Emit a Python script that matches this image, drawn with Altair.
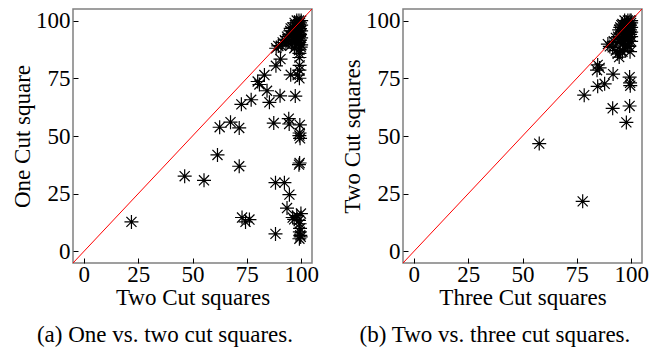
import altair as alt
import pandas as pd

# ---------------- data ----------------
ticks = [0, 25, 50, 75, 100]
diag = [-5, 105]

# Panel (a): x = Two Cut squares, y = One Cut square
a_two = [21.9, 46.4, 55.3, 61.5, 62.5, 67.5, 71.5, 71.5, 72.5, 72.8, 74.4, 76.2, 77.0, 80.0, 80.8,
         83.1, 84.3, 85.4, 87.4, 88.2, 88.2, 88.4, 90.3, 90.5, 92.3, 93.5, 94.3, 94.5, 94.6, 95.2,
         96.1, 96.8, 97.3, 98.4, 99.2, 99.2, 99.3, 99.2, 99.2, 99.2, 99.4, 99.3, 99.2, 99.5, 99.3,
         99.0, 99.9, 99.3, 99.5, 99.4, 99.6, 99.2, 99.8, 98.0, 99.0,
         88.5, 89.5, 90.7, 91.5, 92.5, 93.5, 94.0, 94.5, 95.0, 95.5, 96.0, 96.0, 96.5, 96.9, 97.0,
         97.0, 97.5, 97.5, 98.0, 98.0, 98.0, 98.0, 98.5, 98.5, 99.0, 99.0, 99.0, 99.0, 99.0, 99.5,
         99.5, 99.5, 99.5, 100.0, 100.0, 100.0, 100.0, 100.0, 99.8, 95.5, 93.0, 95.2]
a_one = [12.8, 32.6, 30.8, 41.8, 53.8, 56.0, 53.5, 36.9, 63.7, 14.7, 12.8, 13.8, 65.7, 73.6, 72.3,
         76.4, 69.6, 64.6, 55.6, 7.6, 29.8, 80.4, 67.4, 83.3, 29.8, 18.8, 57.5, 55.2, 24.6, 76.5,
         14.7, 13.9, 67.3, 76.4, 75.0, 78.5, 80.6, 84.0, 85.8, 87.3, 54.8, 51.3, 50.2, 49.0, 38.3,
         37.6, 16.4, 12.0, 10.0, 8.5, 7.0, 5.5, 6.3, 15.5, 13.5,
         88.0, 89.0, 89.1, 90.5, 91.5, 93.0, 91.5, 94.0, 95.5, 93.0, 97.0, 91.0, 95.0, 88.0, 99.0,
         93.0, 97.5, 91.0, 100.0, 96.0, 93.5, 89.5, 98.5, 95.0, 100.0, 97.5, 95.5, 93.0, 90.5, 99.0,
         96.5, 94.0, 91.5, 100.0, 98.0, 95.5, 92.5, 89.5, 88.5, 89.5, 90.0, 96.6]

# Panel (b): x = Three Cut squares, y = Two Cut squares
b_three = [57.7, 77.7, 78.4, 84.6, 87.8, 84.3, 84.6, 85.5, 91.7, 91.5, 97.8, 99.3, 99.3, 99.5, 99.6,
           90.2, 91.5, 93.8, 94.5, 98.4, 99.1, 89.3,
           92.0, 93.0, 94.0, 94.5, 95.0, 95.5, 96.0, 96.0, 96.5, 96.5, 97.0, 97.0, 97.5, 97.5, 98.0,
           98.0, 98.0, 98.0, 98.5, 98.5, 98.5, 99.0, 99.0, 99.0, 99.0, 99.0, 99.5, 99.5, 99.5, 99.5,
           100.0, 100.0, 100.0, 100.0, 100.0, 100.0, 97.0, 95.0, 96.0, 93.0, 99.5, 95.0, 96.0, 97.0,
           94.5, 95.5]
b_two = [46.7, 21.7, 67.7, 71.5, 72.6, 78.5, 80.8, 79.5, 76.8, 62.0, 55.9, 63.0, 75.5, 73.0, 71.8,
         88.8, 88.4, 85.6, 84.2, 89.0, 88.8, 89.8,
         91.0, 92.5, 93.0, 90.5, 94.5, 92.0, 95.5, 93.0, 97.0, 90.0, 96.0, 94.0, 98.0, 92.0, 99.0,
         97.0, 95.0, 93.0, 100.0, 98.0, 96.0, 99.0, 97.0, 95.0, 93.0, 91.0, 100.0, 98.0, 96.0, 94.0,
         100.0, 99.0, 97.0, 95.0, 93.0, 91.0, 88.0, 87.0, 86.5, 87.0, 86.5, 97.0, 98.5, 100.0,
         96.0, 98.0]

# ---------------- styling ----------------
FONT = "Liberation Serif"
STAR = "M-1,0L1,0M0,-1L0,1M-0.72,-0.72L0.72,0.72M-0.72,0.72L0.72,-0.72"
W, H = 239, 254
DOM = [-5, 105]


def axis(title, **kw):
    return alt.Axis(title=title, values=ticks, tickSize=5, offset=-5, domain=False, grid=False,
                    tickColor="black", tickWidth=1,
                    labelFont=FONT, labelFontSize=23, labelColor="black",
                    titleFont=FONT, titleFontSize=23, titleFontWeight="normal",
                    titleColor="black", **kw)


def panel(xs, ys, xtitle, ytitle, caption):
    df = pd.DataFrame({"x": xs, "y": ys})
    dd = pd.DataFrame({"x": diag, "y": diag})
    sx = alt.Scale(domain=DOM, nice=False, zero=False)
    sy = alt.Scale(domain=DOM, nice=False, zero=False)
    pts = alt.Chart(df).mark_point(shape=STAR, size=196, filled=False, stroke="black",
                                   strokeWidth=1.2, opacity=1).encode(
        x=alt.X("x:Q", scale=sx, axis=axis(xtitle, labelPadding=0, titlePadding=0)),
        y=alt.Y("y:Q", scale=sy, axis=axis(ytitle, labelPadding=3, titlePadding=1)),
    )
    line = alt.Chart(dd).mark_line(color="#ff0000", strokeWidth=1, clip=True).encode(
        x=alt.X("x:Q", scale=sx, title=xtitle),
        y=alt.Y("y:Q", scale=sy, title=ytitle),
    )
    return alt.layer(pts, line).properties(
        width=W, height=H,
        title=alt.TitleParams(caption, orient="bottom", anchor="middle", frame="bounds",
                              font=FONT, fontSize=23, fontWeight="normal", color="black",
                              offset=15),
    )


chart = alt.hconcat(
    panel(a_two, a_one, "Two Cut squares", "One Cut square", "(a) One vs. two cut squares."),
    panel(b_three, b_two, "Three Cut squares", "Two Cut squares", "(b) Two vs. three cut squares."),
    spacing=20,
).configure_view(stroke="#808080", strokeWidth=1.5).properties(
    padding={"left": 2, "top": 0, "right": 0, "bottom": 0})

chart.save("out.html", embed_options={"renderer": "svg", "actions": False})
